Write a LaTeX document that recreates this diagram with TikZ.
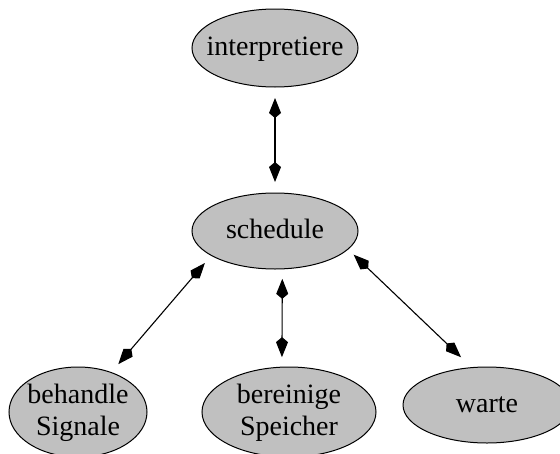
\documentclass[tikz,border=0pt]{standalone}
\usepackage{fontspec}
\setmainfont{Liberation Serif}
\usetikzlibrary{shapes.geometric,arrows.meta}
\definecolor{nodegray}{RGB}{192,192,192}
\newcommand\ntext[1]{\raisebox{-0.25em}[0pt][0pt]{\makebox[0pt]{\begin{tabular}{@{}c@{}}#1\end{tabular}}}}
\begin{document}
\begin{tikzpicture}[x=1pt,y=-1pt,
  proc/.style={ellipse, draw=black, line width=1pt, fill=nodegray, inner sep=0pt, outer sep=0pt,
    font=\fontsize{28}{32}\selectfont},
  link/.style={line width=1.1pt, {Kite[length=20pt,width=12pt,inset=5pt]}-{Kite[length=20pt,width=12pt,inset=5pt]}}]
\useasboundingbox (0,0) rectangle (560,453);
\node[proc, minimum width=166pt, minimum height=78pt] (interp) at (275,48) {\ntext{interpretiere}};
\node[proc, minimum width=166pt, minimum height=76pt] (sched) at (275,231) {\ntext{schedule}};
\node[proc, minimum width=138pt, minimum height=90pt] (beh) at (78,412) {\ntext{behandle\\Signale}};
\node[proc, minimum width=174pt, minimum height=90pt] (ber) at (289,412) {\ntext{bereinige\\Speicher}};
\node[proc, minimum width=168pt, minimum height=76pt] (warte) at (487,405) {\ntext{warte}};
\draw[link, shorten <=11pt, shorten >=11pt] (interp.south) -- (sched.north);
\draw[link, shorten <=10pt, shorten >=11pt] (sched.201) -- (beh.50);
\draw[link, shorten <=10pt, shorten >=10pt] (sched.281) -- (ber.99);
\draw[link, shorten <=8pt, shorten >=15pt] (sched.346) -- (warte.112);
\end{tikzpicture}
\end{document}
